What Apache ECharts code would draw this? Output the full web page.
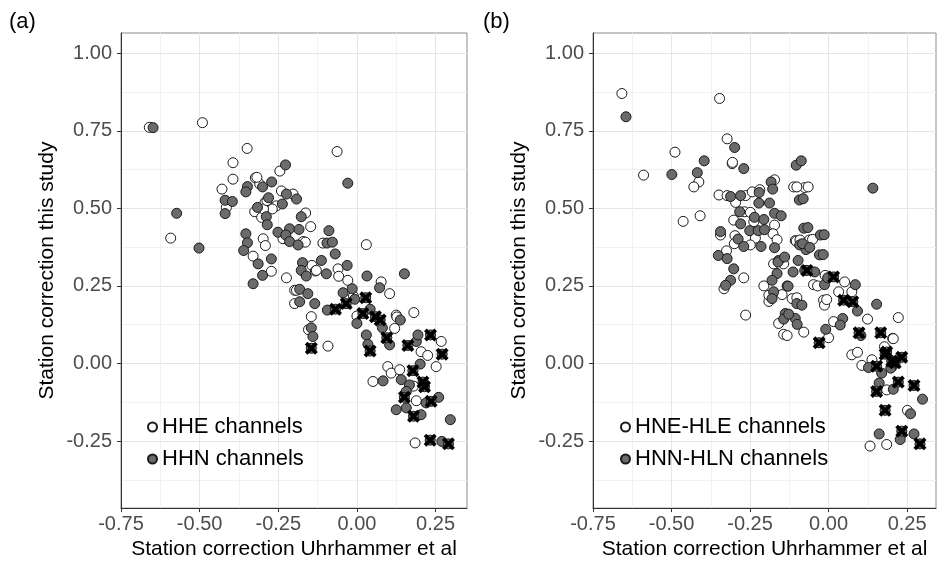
<!DOCTYPE html>
<html>
<head>
<meta charset="utf-8">
<script src="https://cdn.jsdelivr.net/npm/echarts@6/dist/echarts.min.js"></script>
<style>
html,body{margin:0;padding:0;background:#fff;}
#chart{width:937px;height:565px;}
</style>
</head>
<body>
<div id="chart"></div>
<script>
// ---------- axis ticks ----------
const xMajorTicks = [-0.75, -0.5, -0.25, 0, 0.25];
const xMinorTicks = [-0.625, -0.375, -0.125, 0.125];
const yMajorTicks = [-0.25, 0, 0.25, 0.5, 0.75, 1.0];
const yMinorTicks = [-0.375, -0.125, 0.125, 0.375, 0.625, 0.875];

// ---------- panel (a) ----------
const aHHE = [
[-0.660,0.761],[-0.491,0.776],[-0.349,0.693],[-0.394,0.647],[-0.394,0.594],[-0.429,0.562],[-0.592,0.404],
[-0.245,0.620],[-0.323,0.598],[-0.309,0.578],[-0.240,0.556],[-0.203,0.546],[-0.415,0.503],[-0.292,0.519],
[-0.325,0.489],[-0.264,0.503],[-0.256,0.508],[-0.269,0.498],[-0.303,0.471],[-0.163,0.485],[-0.147,0.441],
[-0.298,0.402],[-0.291,0.380],[-0.235,0.402],[-0.171,0.393],[-0.164,0.391],[-0.108,0.388],[-0.063,0.683],
[0.030,0.383],[-0.330,0.346],[-0.272,0.297],[-0.224,0.276],[-0.198,0.236],[-0.198,0.193],[-0.192,0.236],
[-0.145,0.151],[-0.143,0.316],[-0.132,0.298],[-0.154,0.109],[-0.092,0.056],[-0.129,0.300],[-0.060,0.305],
[-0.058,0.281],[-0.029,0.268],[-0.011,0.217],[0.000,0.153],[0.077,0.263],[0.104,0.225],[0.181,0.164],
[0.125,0.156],[0.127,0.150],[0.120,0.113],[0.268,0.071],[0.204,0.038],[0.225,0.026],[0.252,-0.010],
[0.098,-0.010],[0.109,-0.031],[0.051,-0.058],[0.136,-0.020],[0.189,-0.120],[0.185,-0.256],[-0.297,0.498],
[-0.318,0.600],[-0.286,0.525],[0.180,-0.073]
];
const aHHN = [
[-0.648,0.760],[-0.573,0.484],[-0.502,0.372],[-0.227,0.640],[-0.348,0.570],[-0.353,0.553],[-0.300,0.569],
[-0.271,0.585],[-0.224,0.546],[-0.192,0.530],[-0.419,0.526],[-0.396,0.522],[-0.419,0.483],[-0.281,0.534],
[-0.316,0.503],[-0.237,0.514],[-0.288,0.473],[-0.285,0.447],[-0.251,0.423],[-0.214,0.434],[-0.184,0.432],
[-0.353,0.418],[-0.348,0.389],[-0.226,0.414],[-0.214,0.393],[-0.187,0.382],[-0.177,0.473],[-0.089,0.428],
[-0.095,0.388],[-0.078,0.391],[-0.029,0.581],[-0.360,0.364],[-0.314,0.321],[-0.272,0.337],[-0.300,0.284],
[-0.330,0.257],[0.151,0.289],[0.032,0.282],[0.072,0.244],[-0.173,0.325],[-0.177,0.300],[-0.161,0.282],
[-0.182,0.239],[-0.156,0.225],[-0.182,0.199],[-0.134,0.193],[-0.145,0.115],[-0.140,0.087],[-0.113,0.332],
[-0.097,0.289],[-0.031,0.316],[-0.044,0.228],[-0.015,0.241],[-0.094,0.172],[-0.007,0.207],[0.042,0.175],
[0.000,0.129],[0.081,0.115],[0.030,0.092],[0.035,0.062],[0.104,0.060],[0.138,0.140],[0.189,0.071],
[0.194,0.092],[0.201,-0.002],[0.083,-0.056],[0.141,-0.052],[0.167,-0.069],[0.157,-0.090],[0.125,-0.149],
[0.157,-0.143],[0.260,-0.109],[0.220,-0.127],[0.204,-0.165],[0.297,-0.181],[0.270,-0.251],[-0.069,0.353]
];
const aFlagged = [
[-0.145,0.049],[-0.068,0.175],[-0.034,0.193],[0.028,0.212],[0.019,0.161],[0.059,0.151],[0.074,0.140],
[0.042,0.040],[0.095,0.083],[0.162,0.058],[0.234,0.092],[0.271,0.030],[0.178,-0.023],[0.210,-0.060],
[0.215,-0.075],[0.151,-0.109],[0.236,-0.122],[0.180,-0.170],[0.233,-0.247],[0.291,-0.259]
];

// ---------- panel (b) ----------
const bHNE_HLE = [
[-0.658,0.870],[-0.347,0.854],[-0.323,0.724],[-0.489,0.681],[-0.307,0.644],[-0.589,0.607],[-0.413,0.585],
[-0.429,0.569],[-0.463,0.458],[-0.409,0.476],[-0.349,0.543],[-0.323,0.541],[-0.296,0.519],[-0.264,0.541],
[-0.243,0.553],[-0.219,0.560],[-0.172,0.592],[-0.111,0.569],[-0.076,0.567],[-0.268,0.489],[-0.249,0.487],
[-0.238,0.457],[-0.302,0.462],[-0.172,0.446],[-0.233,0.404],[-0.177,0.418],[-0.164,0.399],[-0.344,0.414],
[-0.298,0.412],[-0.249,0.382],[-0.325,0.363],[-0.106,0.396],[-0.061,0.398],[-0.103,0.394],[-0.300,0.386],
[-0.270,0.276],[-0.333,0.241],[-0.264,0.156],[-0.175,0.321],[-0.206,0.250],[-0.190,0.200],[-0.148,0.222],
[-0.116,0.209],[-0.159,0.129],[-0.143,0.094],[-0.143,0.321],[-0.190,0.220],[-0.048,0.254],[-0.011,0.284],
[0.051,0.263],[0.074,0.231],[0.032,0.231],[-0.016,0.204],[-0.013,0.188],[0.124,0.143],[0.222,0.148],
[0.016,0.135],[0.000,0.083],[0.204,0.081],[0.074,0.028],[0.092,0.036],[0.106,-0.006],[0.138,0.012],
[0.178,0.054],[0.185,-0.085],[0.251,-0.151],[0.132,-0.266],[0.185,-0.261],[0.206,0.080],[-0.101,0.212],
[-0.079,0.101],[-0.132,0.090],[-0.091,0.398],[-0.051,0.400],[-0.065,0.569],[-0.101,0.569],[-0.306,0.648],
[-0.035,0.250],[-0.006,0.206]
];
const bHNN_HLN = [
[-0.645,0.795],[-0.299,0.696],[-0.396,0.653],[-0.270,0.628],[-0.499,0.609],[-0.418,0.615],[-0.312,0.538],
[-0.280,0.541],[-0.221,0.551],[-0.222,0.517],[-0.188,0.517],[-0.183,0.585],[-0.178,0.562],[-0.103,0.639],
[-0.087,0.653],[-0.093,0.527],[0.141,0.565],[-0.283,0.489],[-0.236,0.471],[-0.206,0.464],[-0.280,0.450],
[-0.172,0.484],[-0.151,0.476],[-0.251,0.428],[-0.224,0.428],[-0.204,0.431],[-0.344,0.425],[-0.288,0.401],
[-0.270,0.377],[-0.215,0.377],[-0.172,0.373],[-0.351,0.348],[-0.323,0.338],[-0.079,0.436],[-0.026,0.414],
[-0.092,0.382],[-0.072,0.367],[-0.029,0.350],[-0.302,0.305],[-0.312,0.268],[-0.328,0.252],[-0.159,0.332],
[-0.164,0.290],[-0.180,0.268],[-0.175,0.231],[-0.180,0.209],[-0.132,0.250],[-0.101,0.193],[-0.138,0.161],
[-0.143,0.143],[-0.106,0.145],[-0.100,0.126],[-0.161,0.327],[-0.140,0.343],[-0.097,0.332],[-0.076,0.300],
[-0.113,0.295],[-0.129,0.249],[-0.044,0.295],[-0.013,0.254],[0.085,0.254],[0.092,0.169],[0.153,0.191],
[0.045,0.145],[0.037,0.124],[-0.009,0.110],[0.127,-0.013],[0.169,-0.031],[0.203,-0.009],[0.299,-0.115],
[0.161,-0.063],[0.206,-0.083],[0.261,-0.162],[0.161,-0.227],[0.228,-0.245],[0.272,-0.227],[-0.066,0.438],
[-0.083,0.386],[-0.060,0.374],[-0.017,0.351],[-0.014,0.415],[-0.081,0.531],[-0.085,0.188],[-0.127,0.159],
[0.103,0.090],[0.198,-0.015],[-0.003,0.276]
];
const bFlagged = [
[-0.069,0.300],[0.016,0.279],[0.048,0.204],[0.077,0.199],[-0.030,0.067],[0.097,0.099],[0.166,0.099],
[0.180,0.030],[0.185,0.037],[0.201,0.008],[0.212,0.002],[0.233,0.020],[0.153,-0.009],[0.222,-0.060],
[0.272,-0.071],[0.153,-0.090],[0.180,-0.151],[0.233,-0.218],[0.291,-0.259]
];

const FONT = '"Liberation Sans", Arial, Helvetica, sans-serif';
const X_MIN = -0.75, X_MAX_A = 0.35, X_MAX_B = 0.342;
const Y_MIN = -0.466, Y_MAX = 1.065;
const OPEN_FILL = '#ffffff', FILLED = '#6b6b6b', EDGE = '#1a1a1a';
const CROSS = 'path://M0,2.5 L2.5,0 L6,3.5 L9.5,0 L12,2.5 L8.5,6 L12,9.5 L9.5,12 L6,8.5 L2.5,12 L0,9.5 L3.5,6 Z';

const grids = [
  {left: 121, top: 33, width: 346, height: 477},
  {left: 593, top: 33, width: 343, height: 477}
];

function fmt(v){ return v.toFixed(2); }

const xAxes = [], yAxes = [];
grids.forEach((g, i) => {
  const xmax = i === 0 ? X_MAX_A : X_MAX_B;
  xAxes.push({
    type: 'value', gridIndex: i, min: X_MIN, max: xmax,
    name: 'Station correction Uhrhammer et al', nameLocation: 'middle', nameGap: 30,
    nameTextStyle: {fontSize: 21, color: '#000', fontFamily: FONT},
    axisLine: {show: true, onZero: false, lineStyle: {color: '#333', width: 1}},
    axisTick: {show: true, length: 4, customValues: xMajorTicks, lineStyle: {color: '#333'}},
    axisLabel: {customValues: xMajorTicks, formatter: fmt, fontSize: 20, color: '#4d4d4d', fontFamily: FONT, margin: 6},
    splitLine: {show: true, lineStyle: {color: '#e6e6e6', width: 1}}
  });
  xAxes.push({
    type: 'value', gridIndex: i, min: X_MIN, max: xmax, position: 'bottom',
    axisLine: {show: false}, axisLabel: {show: false},
    axisTick: {show: false, customValues: xMinorTicks},
    splitLine: {show: true, lineStyle: {color: '#f2f2f2', width: 1}}
  });
  yAxes.push({
    type: 'value', gridIndex: i, min: Y_MIN, max: Y_MAX,
    name: 'Station correction this study', nameLocation: 'middle', nameGap: 63, nameRotate: 90,
    nameTextStyle: {fontSize: 21, color: '#000', fontFamily: FONT},
    axisLine: {show: true, onZero: false, lineStyle: {color: '#333', width: 1}},
    axisTick: {show: true, length: 4, customValues: yMajorTicks, lineStyle: {color: '#333'}},
    axisLabel: {customValues: yMajorTicks, formatter: fmt, fontSize: 20, color: '#4d4d4d', fontFamily: FONT, margin: 9},
    splitLine: {show: true, lineStyle: {color: '#e6e6e6', width: 1}}
  });
  yAxes.push({
    type: 'value', gridIndex: i, min: Y_MIN, max: Y_MAX, position: 'left',
    axisLine: {show: false}, axisLabel: {show: false},
    axisTick: {show: false, customValues: yMinorTicks},
    splitLine: {show: true, lineStyle: {color: '#f2f2f2', width: 1}}
  });
});

function circles(name, data, panel, fill, z){
  return {
    name, type: 'scatter', data, xAxisIndex: panel*2, yAxisIndex: panel*2,
    symbol: 'circle', symbolSize: 10, z,
    itemStyle: {color: fill, borderColor: EDGE, borderWidth: 1, opacity: 1},
    emphasis: {disabled: true}, animation: false
  };
}
function crosses(name, data, panel){
  return {
    name, type: 'scatter', data, xAxisIndex: panel*2, yAxisIndex: panel*2,
    symbol: CROSS, symbolSize: 13, z: 5,
    itemStyle: {color: '#000', opacity: 1}, emphasis: {disabled: true}, animation: false
  };
}

const series = [
  circles('HHE channels', aHHE, 0, OPEN_FILL, 2),
  circles('HHN channels', aHHN, 0, FILLED, 3),
  circles('aFlagBase', aFlagged, 0, FILLED, 4),
  crosses('aFlagCross', aFlagged, 0),
  circles('HNE-HLE channels', bHNE_HLE, 1, OPEN_FILL, 2),
  circles('HNN-HLN channels', bHNN_HLN, 1, FILLED, 3),
  circles('bFlagBase', bFlagged, 1, FILLED, 4),
  crosses('bFlagCross', bFlagged, 1)
];

const legendBase = {
  orient: 'vertical', itemWidth: 9, itemHeight: 9, itemGap: 10, padding: 0, icon: 'circle',
  selectedMode: false,
  textStyle: {fontSize: 22, color: '#000', fontFamily: FONT}
};

const option = {
  backgroundColor: '#fff',
  animation: false,
  title: [
    {text: '(a)', left: 9, top: 11, padding: 0, textStyle: {fontSize: 22, fontWeight: 'normal', color: '#000', fontFamily: FONT}},
    {text: '(b)', left: 483, top: 11, padding: 0, textStyle: {fontSize: 22, fontWeight: 'normal', color: '#000', fontFamily: FONT}}
  ],
  grid: grids.map(g => Object.assign({show: true, borderColor: '#8c8c8c', borderWidth: 1, backgroundColor: '#fff', containLabel: false}, g)),
  xAxis: xAxes,
  yAxis: yAxes,
  legend: [
    Object.assign({}, legendBase, {data: ['HHE channels', 'HHN channels'], left: 147, top: 416}),
    Object.assign({}, legendBase, {data: ['HNE-HLE channels', 'HNN-HLN channels'], left: 620, top: 416})
  ],
  series
};

const chart = echarts.init(document.getElementById('chart'), null, {renderer: 'canvas'});
chart.setOption(option);
</script>
</body>
</html>
